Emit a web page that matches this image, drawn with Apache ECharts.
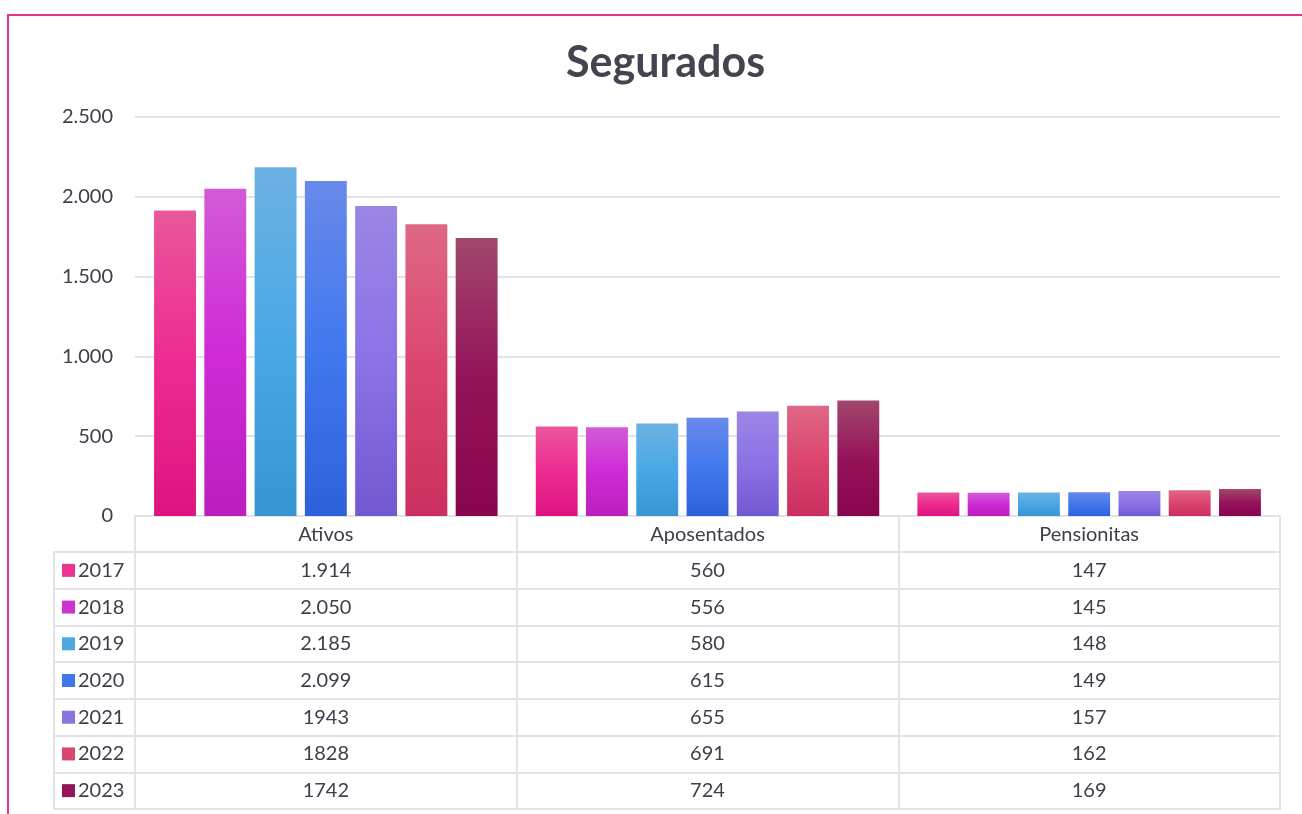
<!DOCTYPE html>
<html>
<head>
<meta charset="utf-8">
<script src="https://cdn.jsdelivr.net/npm/echarts@6/dist/echarts.min.js"></script>
<style>
html,body{margin:0;padding:0;background:#fff;}
#c{width:1302px;height:814px;}
</style>
</head>
<body>
<div id="c"></div>
<script>
const categories = ['Ativos', 'Aposentados', 'Pensionitas'];
const years = ['2017', '2018', '2019', '2020', '2021', '2022', '2023'];
const v2017 = [1914, 560, 147];
const v2018 = [2050, 556, 145];
const v2019 = [2185, 580, 148];
const v2020 = [2099, 615, 149];
const v2021 = [1943, 655, 157];
const v2022 = [1828, 691, 162];
const v2023 = [1742, 724, 169];
// values as printed in the data table
const t2017 = ['1.914', '560', '147'];
const t2018 = ['2.050', '556', '145'];
const t2019 = ['2.185', '580', '148'];
const t2020 = ['2.099', '615', '149'];
const t2021 = ['1943', '655', '157'];
const t2022 = ['1828', '691', '162'];
const t2023 = ['1742', '724', '169'];
const yTicks = [0, 500, 1000, 1500, 2000, 2500];

const values = [v2017, v2018, v2019, v2020, v2021, v2022, v2023];
const texts = [t2017, t2018, t2019, t2020, t2021, t2022, t2023];

const grads = [
  ['#e9579b', '#ee2a92', '#dd1480'],
  ['#d35bd6', '#cf2ad6', '#ba1fbf'],
  ['#6cb1e2', '#4aa8e6', '#3795d2'],
  ['#6889ea', '#4278ee', '#2d61db'],
  ['#9b86e5', '#8b72e6', '#7359d1'],
  ['#de6885', '#dc4570', '#cb2f5f'],
  ['#a1486d', '#95135a', '#88054f']
];
const keyColors = ['#ea3590', '#cc34d2', '#4ea8e2', '#4176ea', '#8c74e0', '#d84870', '#94155a'];

const FONT = 'Lato';
const TXT = '#3e3e4a';
const LINE = '#e2e2e8';
const FS = 20;

const series = [];
years.forEach((y, i) => {
  series.push({
    name: y,
    type: 'bar',
    xAxisIndex: 0,
    yAxisIndex: 0,
    barCategoryGap: '10%',
    barGap: '20%',
    data: values[i],
    itemStyle: {
      color: {
        type: 'linear', x: 0, y: 0, x2: 0, y2: 1,
        colorStops: [
          {offset: 0, color: grads[i][0]},
          {offset: 0.5, color: grads[i][1]},
          {offset: 1, color: grads[i][2]}
        ]
      }
    }
  });
});

const tableData = [];
texts.forEach((row, r) => {
  row.forEach((t, c) => tableData.push([c, r, t]));
});
series.push({
  type: 'scatter',
  xAxisIndex: 1,
  yAxisIndex: 1,
  symbolSize: 0,
  itemStyle: {color: '#ffffff', opacity: 1},
  data: tableData,
  label: {
    show: true,
    position: 'inside',
    formatter: p => p.data[2],
    color: TXT,
    textBorderWidth: 0,
    fontFamily: FONT,
    fontSize: FS
  },
  silent: true
});

const rich = {};
years.forEach((y, i) => {
  rich['k' + i] = {width: 13, height: 13, backgroundColor: keyColors[i]};
});
rich.t = {fontFamily: FONT, fontSize: FS, color: TXT, padding: [0, 0, 0, 3]};

const option = {
  animation: false,
  title: {
    text: 'Segurados',
    left: 561,
    top: 37,
    textStyle: {fontFamily: FONT, fontSize: 43, fontWeight: 'bold', color: '#444451'}
  },
  graphic: [{
    type: 'rect',
    shape: {x: 8, y: 15, width: 3000, height: 3000},
    style: {fill: 'none', stroke: '#e4348c', lineWidth: 2},
    silent: true
  }],
  grid: [
    {left: 135, right: 22, top: 117, bottom: 298},
    {left: 135, right: 22, top: 552, bottom: 5, show: true, borderColor: LINE, borderWidth: 2}
  ],
  xAxis: [
    {
      type: 'category', gridIndex: 0, data: categories,
      axisLine: {show: true, lineStyle: {color: LINE, width: 2}},
      axisTick: {show: true, length: 36, lineStyle: {color: LINE, width: 2}},
      axisLabel: {color: TXT, fontFamily: FONT, fontSize: FS, margin: 9}
    },
    {
      type: 'category', gridIndex: 1, data: categories,
      axisLine: {show: false}, axisTick: {show: false}, axisLabel: {show: false},
      splitLine: {show: true, lineStyle: {color: LINE, width: 2}}
    }
  ],
  yAxis: [
    {
      type: 'value', gridIndex: 0, min: 0, max: 2500, interval: 500,
      axisLine: {show: false}, axisTick: {show: false},
      splitLine: {lineStyle: {color: LINE, width: 2}},
      axisLabel: {
        color: TXT, fontFamily: FONT, fontSize: FS, margin: 22,
        formatter: v => yTicks.includes(v) ? v.toString().replace(/\B(?=(\d{3})+(?!\d))/g, '.') : ''
      }
    },
    {
      type: 'category', gridIndex: 1, data: years, inverse: true,
      axisLine: {show: false},
      axisTick: {show: true, length: 81, lineStyle: {color: LINE, width: 2}},
      splitLine: {show: true, lineStyle: {color: LINE, width: 2}},
      axisLabel: {
        align: 'left', margin: 73,
        formatter: (v, i) => '{k' + i + '|}{t|' + v + '}',
        rich: rich
      }
    },
    {
      type: 'category', gridIndex: 1, data: years, inverse: true,
      position: 'left', offset: 81,
      axisLine: {show: true, lineStyle: {color: LINE, width: 2}},
      axisTick: {show: false}, axisLabel: {show: false}, splitLine: {show: false}
    }
  ],
  series: series
};

const chart = echarts.init(document.getElementById('c'));
chart.setOption(option);
</script>
</body>
</html>
